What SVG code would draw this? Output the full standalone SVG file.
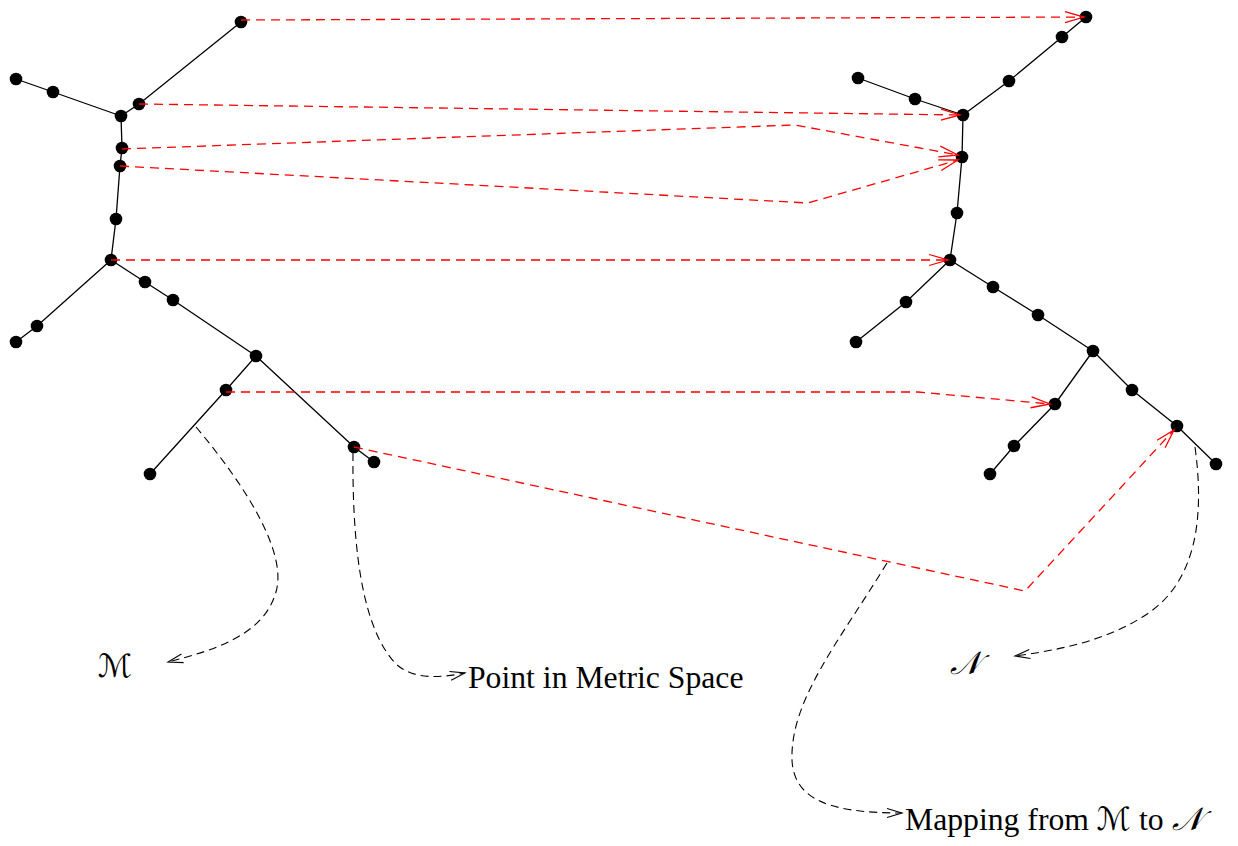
<svg xmlns="http://www.w3.org/2000/svg" width="1238" height="846" viewBox="0 0 1238 846">
<style>
.edge{stroke:#000;stroke-width:1.3;fill:none}
.pt{fill:#000}
.map{stroke:#ff0000;stroke-width:1.3;fill:none;stroke-dasharray:9 6}
.lead{stroke:#000;stroke-width:1.1;fill:none;stroke-dasharray:8 5}
.lbl{font-family:"Liberation Serif","Times New Roman",serif;font-size:31.7px;fill:#000}
.cal{font-family:"DejaVu Serif","DejaVu Sans","Noto Sans",serif;font-style:italic;font-size:32px;fill:#000}
</style>
<defs>
<marker id="ar" markerUnits="userSpaceOnUse" markerWidth="30" markerHeight="20" viewBox="-22 -10 24 20" refX="0" refY="0" orient="auto" overflow="visible">
<path d="M-19,-5.5 L0,0 L-19,5.5" fill="none" stroke="#ff0000" stroke-width="1.3"/>
</marker>
<marker id="ab" markerUnits="userSpaceOnUse" markerWidth="30" markerHeight="20" viewBox="-22 -10 24 20" refX="0" refY="0" orient="auto" overflow="visible">
<path d="M-15,-4.5 L0,0 L-15,4.5" fill="none" stroke="#000" stroke-width="1.1"/>
</marker>
</defs>

<g id="space-M">
<polyline class="edge" points="241,22 139,104 121,116"/>
<polyline class="edge" points="121,116 53,92 16,79"/>
<polyline class="edge" points="121,116 122,148 120,166 116,219 111,260"/>
<polyline class="edge" points="111,260 37,326 16,342"/>
<polyline class="edge" points="111,260 145,282 173,300 256,356"/>
<polyline class="edge" points="256,356 226,390 150,474"/>
<polyline class="edge" points="256,356 354,447 374,462"/>
<g class="pt">
<circle cx="241" cy="22" r="6.3"/><circle cx="139" cy="104" r="6.3"/><circle cx="121" cy="116" r="6.3"/>
<circle cx="53" cy="92" r="6.3"/><circle cx="16" cy="79" r="6.3"/><circle cx="122" cy="148" r="6.3"/>
<circle cx="120" cy="166" r="6.3"/><circle cx="116" cy="219" r="6.3"/><circle cx="111" cy="260" r="6.3"/>
<circle cx="37" cy="326" r="6.3"/><circle cx="16" cy="342" r="6.3"/><circle cx="145" cy="282" r="6.3"/>
<circle cx="173" cy="300" r="6.3"/><circle cx="256" cy="356" r="6.3"/><circle cx="226" cy="390" r="6.3"/>
<circle cx="150" cy="474" r="6.3"/><circle cx="354" cy="447" r="6.3"/><circle cx="374" cy="462" r="6.3"/>
</g>
</g>

<g id="space-N">
<polyline class="edge" points="1086,17 1062,37 1009,81 963,115"/>
<polyline class="edge" points="963,115 915,99 858,78"/>
<polyline class="edge" points="963,115 962,157 957,213 950,260"/>
<polyline class="edge" points="950,260 906,302 856,342"/>
<polyline class="edge" points="950,260 993,287 1038,315 1093,351"/>
<polyline class="edge" points="1093,351 1055,404 1014,446 990,474"/>
<polyline class="edge" points="1093,351 1132,390 1177,426 1216,464"/>
<g class="pt">
<circle cx="1086" cy="17" r="6.3"/><circle cx="1062" cy="37" r="6.3"/><circle cx="1009" cy="81" r="6.3"/>
<circle cx="963" cy="115" r="6.3"/><circle cx="915" cy="99" r="6.3"/><circle cx="858" cy="78" r="6.3"/>
<circle cx="962" cy="157" r="6.3"/><circle cx="957" cy="213" r="6.3"/><circle cx="950" cy="260" r="6.3"/>
<circle cx="906" cy="302" r="6.3"/><circle cx="856" cy="342" r="6.3"/><circle cx="993" cy="287" r="6.3"/>
<circle cx="1038" cy="315" r="6.3"/><circle cx="1093" cy="351" r="6.3"/><circle cx="1055" cy="404" r="6.3"/>
<circle cx="1014" cy="446" r="6.3"/><circle cx="990" cy="474" r="6.3"/><circle cx="1132" cy="390" r="6.3"/>
<circle cx="1177" cy="426" r="6.3"/><circle cx="1216" cy="464" r="6.3"/>
</g>
</g>

<g id="connectors">
<path class="map" marker-end="url(#ar)" d="M241,20 L1084,17"/>
<path class="map" marker-end="url(#ar)" d="M139,104 L960,115"/>
<path class="map" marker-end="url(#ar)" d="M122,149 L795,125 L958,155"/>
<path class="map" marker-end="url(#ar)" d="M120,166 L808,203 L958,160"/>
<path class="map" marker-end="url(#ar)" d="M111,260 L948,260"/>
<path class="map" marker-end="url(#ar)" d="M226,392 L918,392 L1050,404"/>
<path class="map" marker-end="url(#ar)" d="M354,447 L1025,591 L1174,430"/>
<path class="lead" marker-end="url(#ab)" d="M196,427 C245,485 290,555 275,595 C262,635 215,650 168,662"/>
<path class="lead" marker-end="url(#ab)" d="M353,453 C352,560 365,630 395,663 C412,680 440,678 465,673"/>
<path class="lead" marker-end="url(#ab)" d="M887,563 C840,640 790,700 792,760 C794,800 830,813 902,813"/>
<path class="lead" marker-end="url(#ab)" d="M1195,447 C1205,520 1195,580 1150,612 C1110,640 1060,650 1015,656"/>
</g>

<g id="labels">
<text class="cal" x="98" y="677">ℳ</text>
<text class="cal" x="950" y="674">𝒩</text>
<text class="lbl" x="468" y="688">Point in Metric Space</text>
<text class="lbl" x="905" y="830">Mapping from <tspan class="cal">ℳ</tspan> to <tspan class="cal">𝒩</tspan></text>
</g>
</svg>
